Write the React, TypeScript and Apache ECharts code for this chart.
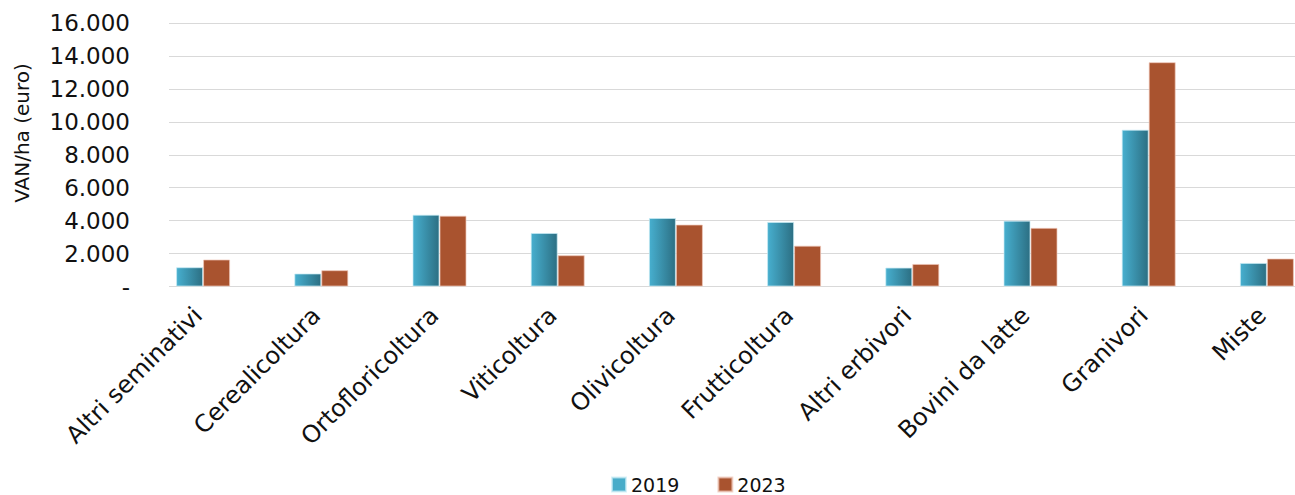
import React, { useEffect, useRef } from 'react';
import * as echarts from 'echarts';

// Farm types on the category axis
const categories = [
  'Altri seminativi',
  'Cerealicoltura',
  'Ortofloricoltura',
  'Viticoltura',
  'Olivicoltura',
  'Frutticoltura',
  'Altri erbivori',
  'Bovini da latte',
  'Granivori',
  'Miste',
];

// VAN per hectare (euro)
const values2019 = [1170, 790, 4360, 3250, 4160, 3920, 1150, 4000, 9520, 1430];
const values2023 = [1640, 990, 4300, 1900, 3760, 2480, 1370, 3560, 13620, 1700];

const seriesNames = ['2019', '2023'];

const yMin = 0;
const yMax = 16000;
const yStep = 2000;

const FONT = 'DejaVu Sans';
const TEXT = '#111111';

// 16000 -> "16.000", 0 -> "-"
const formatTick = (v: number) =>
  v === 0 ? '-' : String(Math.round(v)).replace(/\B(?=(\d{3})+(?!\d))/g, '.');

export default function App() {
  const ref = useRef<HTMLDivElement>(null);

  useEffect(() => {
    if (!ref.current) return;
    const chart = echarts.init(ref.current, null, { renderer: 'svg' });

    const blueGrad = new echarts.graphic.LinearGradient(0, 0, 1, 0, [
      { offset: 0, color: '#47AFCF' },
      { offset: 1, color: '#2C6F83' },
    ]);

    chart.setOption({
      animation: false,
      backgroundColor: '#ffffff',
      textStyle: { fontFamily: FONT },
      grid: [
        // gridlines and value labels
        { left: 169, right: 0, top: 23, bottom: 208.5, outerBoundsMode: 'none' },
        // bars: category bands run past the right edge of the canvas
        { left: 144, width: 1182, top: 23, bottom: 208.5, outerBoundsMode: 'none' },
      ],
      xAxis: [
        { type: 'category', gridIndex: 0, data: categories, show: false },
        {
          type: 'category',
          gridIndex: 1,
          data: categories,
          axisLine: { show: false },
          axisTick: { show: false },
          axisLabel: {
            rotate: 45,
            interval: 0,
            margin: 20,
            padding: [0, 7, 0, 0],
            fontSize: 24,
            fontFamily: FONT,
            color: TEXT,
          },
        },
      ],
      yAxis: [
        {
          type: 'value',
          gridIndex: 0,
          min: yMin,
          max: yMax,
          interval: yStep,
          axisLine: { show: false },
          axisTick: { show: false },
          axisLabel: {
            formatter: formatTick,
            margin: 39,
            fontSize: 23,
            fontFamily: FONT,
            color: TEXT,
          },
          splitLine: { lineStyle: { color: '#d9d9d9', width: 1.2 } },
        },
        {
          type: 'value',
          gridIndex: 1,
          min: yMin,
          max: yMax,
          interval: yStep,
          show: false,
          splitLine: { show: false },
        },
      ],
      legend: {
        left: 606,
        top: 470,
        itemWidth: 14,
        itemHeight: 14,
        itemGap: 38,
        icon: 'rect',
        textStyle: { fontSize: 19, fontFamily: FONT, color: TEXT },
        data: [
          { name: seriesNames[0], itemStyle: { color: '#48ACC9' } },
          { name: seriesNames[1], itemStyle: { color: '#A9532F' } },
        ],
      },
      graphic: [
        {
          type: 'text',
          x: 22,
          y: 133,
          rotation: Math.PI / 2,
          style: {
            text: 'VAN/ha (euro)',
            fontSize: 20,
            fontFamily: FONT,
            fill: TEXT,
            align: 'center',
            verticalAlign: 'middle',
          },
        },
      ],
      series: [
        {
          name: seriesNames[0],
          type: 'bar',
          xAxisIndex: 1,
          yAxisIndex: 1,
          data: values2019,
          barWidth: 27,
          barGap: '0%',
          itemStyle: {
            color: blueGrad,
            borderColor: 'rgba(200,235,245,0.7)',
            borderWidth: 1,
          },
        },
        {
          name: seriesNames[1],
          type: 'bar',
          xAxisIndex: 1,
          yAxisIndex: 1,
          data: values2023,
          barWidth: 27,
          barGap: '0%',
          itemStyle: {
            color: '#A9532F',
            borderColor: 'rgba(240,200,185,0.7)',
            borderWidth: 1,
          },
        },
      ],
    });

    return () => chart.dispose();
  }, []);

  return (
    <div
      ref={ref}
      style={{ position: 'fixed', left: 0, top: 0, width: 1295, height: 495 }}
    />
  );
}
